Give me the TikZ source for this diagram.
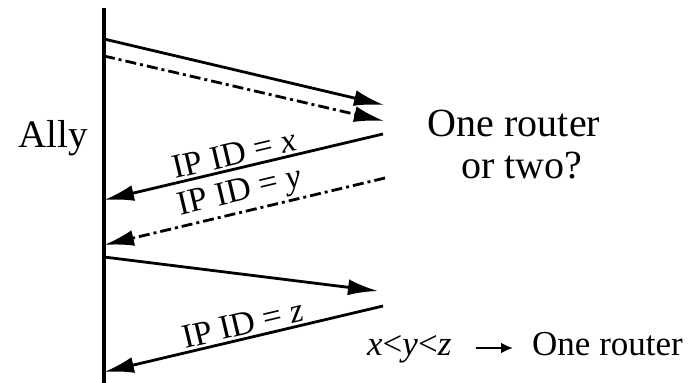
\documentclass[tikz,border=0pt]{standalone}
\usepackage{fontspec}
\setmainfont{Liberation Serif}
\usetikzlibrary{arrows.meta}
\tikzset{
  msg/.style={line width=2.8pt, -{Latex[length=30pt,width=16pt]}},
  dashdot/.style={dash pattern=on 11pt off 4pt on 3pt off 4pt},
  lbl/.style={font=\fontsize{34}{40}\selectfont, sloped, above, inner sep=2.5pt},
  big/.style={font=\fontsize{40}{42}\selectfont, inner sep=0pt},
}
\begin{document}
\begin{tikzpicture}[x=1pt,y=-1pt]
\useasboundingbox (0,0) rectangle (689,383);
% lifeline
\coordinate (top) at (104,8);
\coordinate (bot) at (104,383);
\draw[line width=3.5pt] (top) -- (bot);
\node[big, anchor=base west, font=\fontsize{39}{42}\selectfont] (ally) at (18,147) {Ally};
\node[big, anchor=base] (q1) at (514,136) {One router};
\node[big, anchor=base] (q2) at (522,178) {or two?};
% endpoints
\coordinate (a1) at (104,39);  \coordinate (b1) at (384,105);
\coordinate (a2) at (104,56);  \coordinate (b2) at (384,121);
\coordinate (b3) at (383,134); \coordinate (a3) at (104,200);
\coordinate (b4) at (385,178); \coordinate (a4) at (104,245);
\coordinate (a5) at (104,257); \coordinate (b5) at (378,291);
\coordinate (b6) at (383,306); \coordinate (a6) at (104,372);
\draw[msg] (a1) -- (b1);
\draw[msg, dashdot] (a2) -- (b2);
\draw[msg] (b3) -- node[lbl, pos=0.52] (lx) {IP ID = \textit{x}} (a3);
\draw[msg, dashdot] (b4) -- node[lbl, pos=0.5] (ly) {IP ID = \textit{y}} (a4);
\draw[msg] (a5) -- (b5);
\draw[msg] (b6) -- node[lbl, pos=0.49] (lz) {IP ID = \textit{z}} (a6);
% conclusion
\node[anchor=base west, inner sep=0pt, font=\fontsize{35}{40}\selectfont] (ineq) at (367,355) {\textit{x}<\textit{y}<\textit{z}};
\node[anchor=base west, inner sep=0pt, font=\fontsize{35}{40}\selectfont] (res) at (532,355) {One router};
\draw[line width=2.8pt, -{Latex[length=12pt,width=11pt]}, shorten <=24pt, shorten >=19pt] (ineq.east |- 0,348) -- (res.west |- 0,348);
\end{tikzpicture}
\end{document}
